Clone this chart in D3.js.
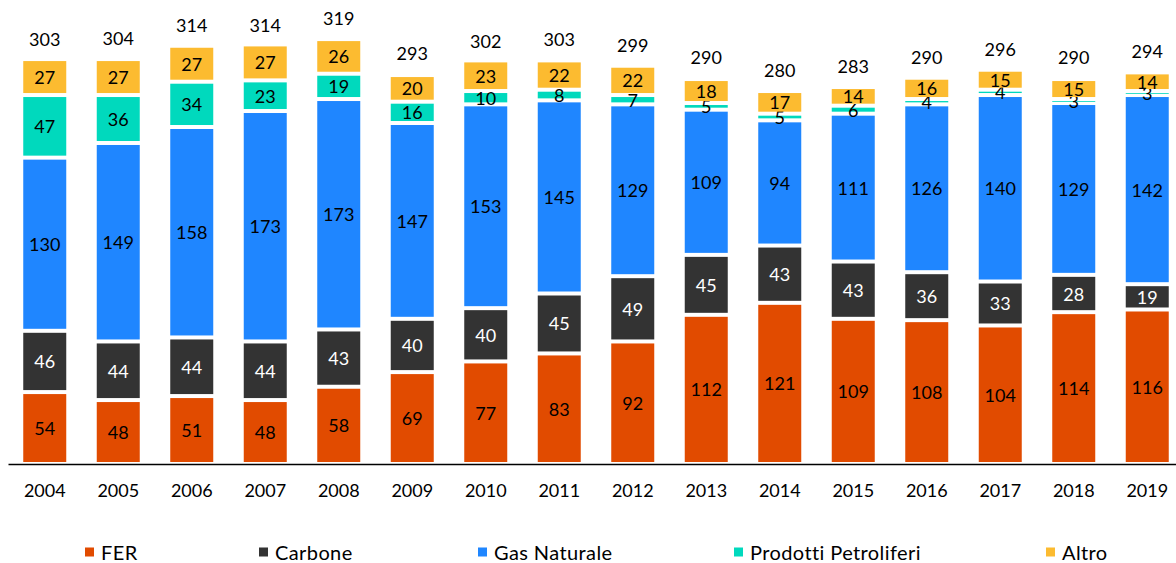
<!DOCTYPE html>
<html>
<head>
<meta charset="utf-8">
<script src="https://cdn.jsdelivr.net/npm/d3@7"></script>
<style>
  body { margin: 0; background: #fff; }
  svg { display: block; font-family: Lato, "Open Sans", sans-serif; font-variant-ligatures: none; }
</style>
</head>
<body>
<div id="chart"></div>
<script>
var years = ['2004', '2005', '2006', '2007', '2008', '2009', '2010', '2011', '2012', '2013', '2014', '2015', '2016', '2017', '2018', '2019'];
var fer = [54, 48, 51, 48, 58, 69, 77, 83, 92, 112, 121, 109, 108, 104, 114, 116];
var carbone = [46, 44, 44, 44, 43, 40, 40, 45, 49, 45, 43, 43, 36, 33, 28, 19];
var gas = [130, 149, 158, 173, 173, 147, 153, 145, 129, 109, 94, 111, 126, 140, 129, 142];
var prodotti = [47, 36, 34, 23, 19, 16, 10, 8, 7, 5, 5, 6, 4, 4, 3, 3];
var altro = [27, 27, 27, 27, 26, 20, 23, 22, 22, 18, 17, 14, 16, 15, 15, 14];
var totals = [303, 304, 314, 314, 319, 293, 302, 303, 299, 290, 280, 283, 290, 296, 290, 294];

var seriesNames = ['FER', 'Carbone', 'Gas Naturale', 'Prodotti Petroliferi', 'Altro'];
var seriesValues = [fer, carbone, gas, prodotti, altro];
var colors = ['#E14B00', '#333333', '#1F86FF', '#00D9BD', '#FCBB30'];
var labelColors = ['#000', '#fff', '#000', '#000', '#000'];

var w = 1176, h = 563;
var baseY = 464;

const svg = d3.select('#chart')
  .append('svg')
  .attr('width', w)
  .attr('height', h);

var rows = years.map(function (y, i) {
  var r = { year: y };
  seriesNames.forEach(function (s, j) { r[s] = seriesValues[j][i]; });
  return r;
});

var stacked = d3.stack().keys(seriesNames)(rows);

var xScale = d3.scaleBand()
  .domain(years)
  .range([8, 8 + 16 * 73.5])
  .paddingInner(0.415)
  .paddingOuter(0.2075);

var yScale = d3.scaleLinear()
  .domain([0, 340])
  .range([baseY, baseY - 340 * 1.332]);

var gap = 2;

var layers = svg.append('g').selectAll('g').data(stacked).enter()
  .append('g')
  .attr('fill', function (d, i) { return colors[i]; });

layers.selectAll('rect').data(function (d) { return d; }).enter()
  .append('rect')
  .attr('x', function (d) { return xScale(d.data.year); })
  .attr('width', xScale.bandwidth())
  .attr('y', function (d) { return yScale(d[1]) + gap; })
  .attr('height', function (d) { return Math.max(0.8, yScale(d[0]) - yScale(d[1]) - 2 * gap); });

layers.each(function (layer, i) {
  d3.select(this).selectAll('text').data(layer).enter()
    .append('text')
    .attr('x', function (d) { return xScale(d.data.year) + xScale.bandwidth() / 2; })
    .attr('y', function (d) { return (yScale(d[0]) + yScale(d[1])) / 2; })
    .attr('text-anchor', 'middle')
    .attr('dominant-baseline', 'central')
    .attr('font-size', 18)
    .attr('fill', labelColors[i])
    .text(function (d) { return d[1] - d[0]; });
});

// totals above the bars
svg.append('g').selectAll('text').data(years).enter()
  .append('text')
  .attr('x', function (d) { return xScale(d) + xScale.bandwidth() / 2; })
  .attr('y', function (d, i) { return yScale(totals[i]) - 21; })
  .attr('text-anchor', 'middle')
  .attr('dominant-baseline', 'central')
  .attr('font-size', 18)
  .attr('fill', '#000')
  .text(function (d, i) { return totals[i]; });

var xAxis = svg.append('g')
  .attr('transform', 'translate(0,' + baseY + ')')
  .call(d3.axisBottom(xScale).tickSize(0).tickPadding(20));
xAxis.select('.domain').attr('stroke', '#000').attr('stroke-width', 1.3);
xAxis.selectAll('text').attr('font-size', 18).attr('font-family', 'Lato, "Open Sans", sans-serif').attr('fill', '#000');

// legend
var legendX = [85, 259, 478, 734, 1046];
var legend = svg.append('g').selectAll('g').data(seriesNames).enter()
  .append('g')
  .attr('transform', function (d, i) { return 'translate(' + legendX[i] + ',552)'; });
legend.append('rect')
  .attr('x', 0).attr('y', -4.5).attr('width', 9).attr('height', 9)
  .attr('fill', function (d, i) { return colors[i]; });
legend.append('text')
  .attr('x', 16)
  .attr('dominant-baseline', 'central')
  .attr('font-size', 20)
  .attr('letter-spacing', 0.4)
  .attr('fill', '#000')
  .text(function (d) { return d; });
</script>
</body>
</html>
